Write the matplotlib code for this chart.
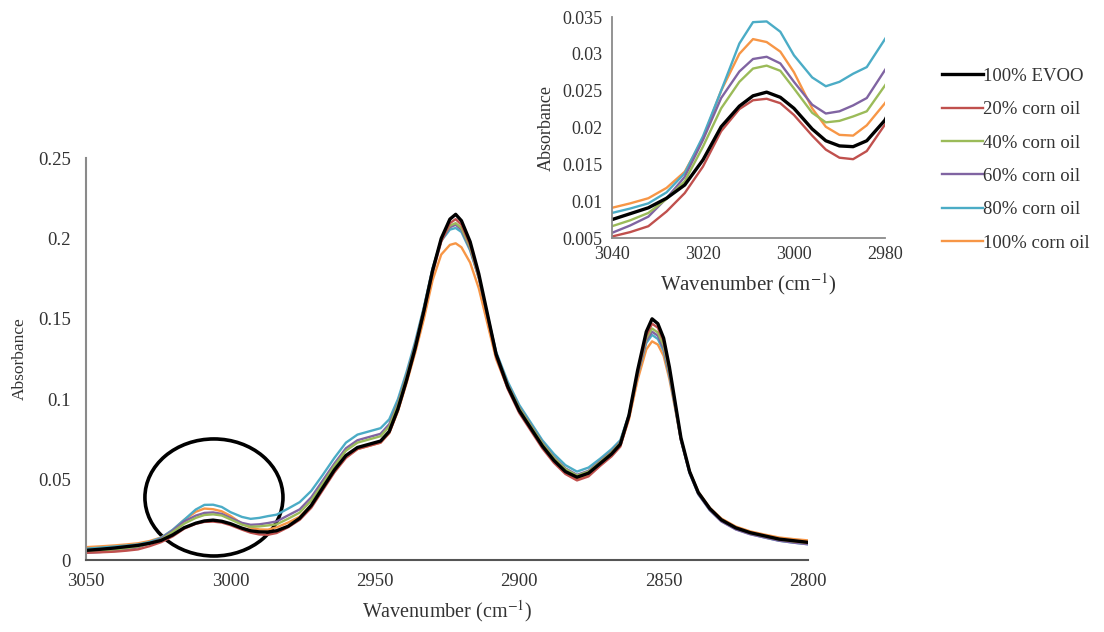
import numpy as np
import matplotlib
matplotlib.use("Agg")
import matplotlib.pyplot as plt
from matplotlib.patches import Ellipse

plt.rcParams["font.family"] = ["Liberation Serif", "DejaVu Serif"]
plt.rcParams["mathtext.fontset"] = "stix"

# wavenumber grid (cm-1)
wn = [3050, 3045, 3040, 3036, 3032, 3028, 3024, 3020, 3016, 3012, 3009, 3006, 3003, 3000,
      2996, 2993, 2990, 2987, 2984, 2980, 2976, 2972, 2968, 2964, 2960, 2956, 2952, 2948,
      2945, 2942, 2939, 2936, 2933, 2930, 2927, 2924, 2922, 2920, 2917, 2914, 2911, 2908,
      2904, 2900, 2896, 2892, 2888, 2884, 2880, 2876, 2872, 2868, 2865, 2862, 2859, 2856,
      2854, 2852, 2850, 2848, 2846, 2844, 2841, 2838, 2834, 2830, 2825, 2820, 2815, 2810,
      2805, 2800]

evoo = [.0060, .0067, .0075, .0083, .0091, .0104, .0122, .0156, .0201, .0229, .0243, .0248, .0241, .0226,
        .0198, .0182, .0175, .0174, .0182, .0210, .0260, .0340, .0450, .0560, .0650, .0700, .0720, .0740,
        .0800, .0940, .1120, .1320, .1550, .1800, .2000, .2120, .2150, .2110, .1980, .1780, .1530, .1280,
        .1080, .0930, .0820, .0710, .0620, .0550, .0515, .0540, .0600, .0660, .0720, .0900, .1180, .1420,
        .1500, .1470, .1380, .1200, .0980, .0760, .0550, .0420, .0320, .0250, .0200, .0170, .0150, .0130,
        .0120, .0110]

corn20 = [.0045, .0048, .0052, .0058, .0066, .0086, .0111, .0147, .0195, .0225, .0237, .0239, .0233, .0217,
          .0189, .0170, .0159, .0157, .0168, .0204, .0250, .0325, .0435, .0545, .0635, .0690, .0710, .0730,
          .0790, .0930, .1110, .1310, .1540, .1785, .1980, .2095, .2120, .2085, .1960, .1765, .1515, .1265,
          .1065, .0915, .0805, .0695, .0605, .0535, .0495, .0520, .0585, .0645, .0705, .0885, .1160, .1395,
          .1470, .1445, .1360, .1185, .0970, .0755, .0550, .0420, .0320, .0250, .0200, .0170, .0150, .0130,
          .0118, .0108]

corn40 = [.0055, .0060, .0066, .0074, .0084, .0103, .0127, .0174, .0226, .0262, .0280, .0284, .0277, .0253,
          .0220, .0207, .0209, .0215, .0222, .0257, .0295, .0370, .0475, .0585, .0680, .0730, .0750, .0770,
          .0830, .0965, .1140, .1335, .1560, .1805, .1995, .2080, .2095, .2065, .1945, .1760, .1520, .1280,
          .1090, .0945, .0835, .0725, .0635, .0565, .0525, .0550, .0610, .0670, .0730, .0900, .1160, .1380,
          .1440, .1415, .1335, .1170, .0965, .0755, .0550, .0420, .0320, .0250, .0200, .0168, .0148, .0128,
          .0116, .0106]

corn60 = [.0045, .0050, .0057, .0067, .0079, .0104, .0133, .0183, .0240, .0276, .0293, .0296, .0287, .0262,
          .0231, .0219, .0222, .0230, .0240, .0278, .0315, .0390, .0495, .0600, .0695, .0745, .0765, .0785,
          .0845, .0975, .1150, .1345, .1565, .1810, .1990, .2070, .2085, .2055, .1935, .1755, .1520, .1285,
          .1095, .0950, .0840, .0730, .0640, .0570, .0530, .0555, .0615, .0675, .0735, .0900, .1155, .1365,
          .1420, .1395, .1315, .1155, .0955, .0745, .0540, .0410, .0310, .0240, .0190, .0160, .0140, .0120,
          .0108, .0098]

corn80 = [.0070, .0077, .0084, .0090, .0097, .0112, .0138, .0188, .0250, .0314, .0343, .0344, .0330, .0298,
          .0268, .0256, .0262, .0273, .0282, .0320, .0360, .0430, .0530, .0635, .0730, .0780, .0800, .0820,
          .0875, .1000, .1170, .1360, .1575, .1815, .1985, .2055, .2065, .2040, .1925, .1755, .1525, .1295,
          .1110, .0965, .0855, .0745, .0660, .0590, .0550, .0575, .0630, .0690, .0745, .0905, .1150, .1350,
          .1400, .1375, .1300, .1145, .0950, .0745, .0540, .0410, .0310, .0242, .0192, .0162, .0140, .0120,
          .0108, .0098]

corn100 = [.0080, .0085, .0091, .0097, .0104, .0118, .0140, .0185, .0250, .0300, .0320, .0316, .0303, .0275,
           .0226, .0201, .0190, .0189, .0203, .0233, .0270, .0340, .0445, .0550, .0640, .0690, .0710, .0730,
           .0790, .0925, .1100, .1290, .1500, .1740, .1900, .1960, .1970, .1945, .1850, .1690, .1470, .1250,
           .1070, .0925, .0815, .0705, .0615, .0545, .0505, .0530, .0590, .0650, .0710, .0875, .1120, .1310,
           .1360, .1340, .1270, .1125, .0940, .0745, .0550, .0425, .0325, .0258, .0208, .0178, .0158, .0140,
           .0130, .0122]

labels = ["100% EVOO", "20% corn oil", "40% corn oil", "60% corn oil", "80% corn oil", "100% corn oil"]
colors = ["#000000", "#C0504D", "#9BBB59", "#8064A2", "#4BACC6", "#F79646"]
series = [evoo, corn20, corn40, corn60, corn80, corn100]

txt = "#333333"
fig = plt.figure(figsize=(11.04, 6.32), dpi=100)

# ---- main plot ----
ax = fig.add_axes([0.0779, 0.1139, 0.654, 0.636])
# draw in reverse so black ends up on top
for y, c, lab in list(zip(series, colors, labels))[::-1]:
    lw = 2.4 if c == "#000000" else 1.7
    ax.plot(wn, y, color=c, lw=lw, label=lab)

ax.set_xlim(3050, 2800)
ax.set_ylim(0, 0.25)
ax.set_xticks([3050, 3000, 2950, 2900, 2850, 2800])
ax.set_yticks([0, 0.05, 0.1, 0.15, 0.2, 0.25])
ax.set_yticklabels(["0", "0.05", "0.1", "0.15", "0.2", "0.25"])
ax.tick_params(length=0, labelsize=13.5, colors=txt)
ax.tick_params(axis="y", pad=11)
ax.tick_params(axis="x", pad=9)
for s in ["top", "right"]:
    ax.spines[s].set_visible(False)
ax.spines["left"].set_color("#8a8a8a")
ax.spines["bottom"].set_color("#555555")
ax.spines["left"].set_linewidth(1.5)
ax.spines["bottom"].set_linewidth(1.5)
ax.set_xlabel("Wavenumber (cm$^{-1}$)", fontsize=14.5, color=txt, labelpad=6)
ax.set_ylabel("Absorbance", fontsize=12.5, color=txt, labelpad=7)

ell = Ellipse((3005.7, 0.0389), 47.8, 0.0728, fill=False, edgecolor="black", lw=2.6)
ax.add_patch(ell)

# ---- inset ----
ins = fig.add_axes([0.5543, 0.6234, 0.2473, 0.3497])
for y, c in list(zip(series, colors))[::-1]:
    lw = 2.4 if c == "#000000" else 1.7
    ins.plot(wn, y, color=c, lw=lw)
ins.set_xlim(3040, 2980)
ins.set_ylim(0.005, 0.035)
ins.set_xticks([3040, 3020, 3000, 2980])
ins.set_yticks([0.005, 0.01, 0.015, 0.02, 0.025, 0.03, 0.035])
ins.set_yticklabels(["0.005", "0.01", "0.015", "0.02", "0.025", "0.03", "0.035"])
ins.tick_params(length=0, labelsize=13, colors=txt)
ins.tick_params(axis="y", pad=7)
ins.tick_params(axis="x", pad=6)
for s in ["top", "right"]:
    ins.spines[s].set_visible(False)
ins.spines["left"].set_color("#8a8a8a")
ins.spines["bottom"].set_color("#8a8a8a")
ins.spines["left"].set_linewidth(1.3)
ins.spines["bottom"].set_linewidth(1.3)
ins.set_xlabel("Wavenumber (cm$^{-1}$)", fontsize=15, color=txt, labelpad=6)
ins.set_ylabel("Absorbance", fontsize=13, color=txt, labelpad=5)

# legend, in original order
handles, labs = ax.get_legend_handles_labels()
order = [labs.index(l) for l in labels]
leg = fig.legend([handles[i] for i in order], labels, loc="upper left",
                 bbox_to_anchor=(0.8533, 0.893), frameon=False, fontsize=13.5,
                 handlelength=2.2, handletextpad=0.0, labelspacing=0.87,
                 borderpad=0, borderaxespad=0, labelcolor=txt)

fig.savefig("out.png", dpi=100)
